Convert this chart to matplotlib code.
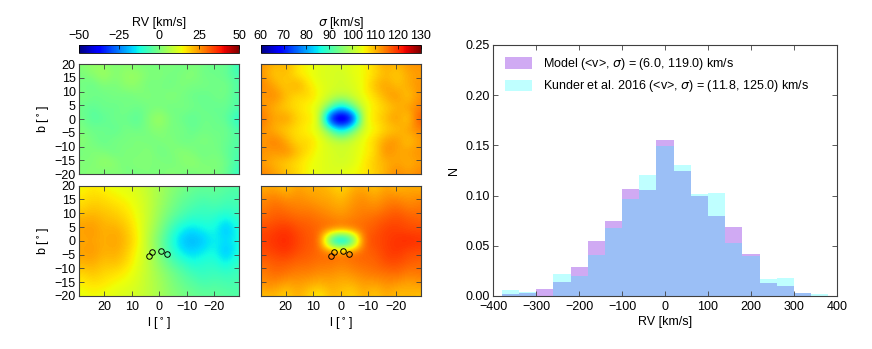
import numpy as np
import matplotlib
matplotlib.use('Agg')
import matplotlib.pyplot as plt

plt.rcParams['font.family'] = ['Liberation Sans', 'DejaVu Sans']
plt.rcParams['font.size'] = 9
plt.rcParams['mathtext.fontset'] = 'dejavusans'

# Map grid (approximate sample points)
l_grid = [28, 24, 20, 16, 12, 8, 4, 0, -4, -8, -12, -16, -20, -24, -28]
b_grid = [20, 16, 12, 8, 4, 0, -4, -8, -12, -16, -20]

# top left: model RV, whole box
rv_top = [
    [1, 3, 2, 0, 2, -1, 0, -1, 1, -2, 0, -1, -3, -1, -9],
    [0, 2, 5, 1, 3, 4, 0, 1, -1, 0, 2, -2, -1, -3, -7],
    [-1, -3, 1, -1, 3, 2, -1, 0, -2, 1, -1, 0, -2, 0, -5],
    [0, -1, -2, 0, -2, 0, 1, -1, 2, -1, -2, -3, -1, -1, -6],
    [-2, -4, -1, -3, 0, -2, -1, 0, -2, 0, -1, -2, -3, -2, -5],
    [-1, -5, -4, -1, -2, -5, 1, 5, 0, -2, -4, -1, -2, -3, -11],
    [0, -2, -1, -4, 0, -2, 0, 2, -1, 0, -3, -1, -2, -1, -6],
    [2, -1, -3, 0, -1, 1, -1, 0, 1, -2, -1, 1, -1, -2, -5],
    [-1, 1, 0, -2, 1, -1, 2, -2, 0, 2, 0, -2, 0, -3, -6],
    [1, 0, 4, 2, -1, 2, 0, 1, -1, 1, 3, 0, 1, -1, -7],
    [0, 2, -1, 1, 0, -1, 1, -1, 2, 0, -1, 1, 0, -2, -9],
]

# top right: model dispersion
sig_top = [
    [113, 110, 111, 107, 105, 104, 103, 103, 104, 105, 108, 112, 110, 113, 113],
    [112, 108, 110, 106, 105, 103, 103, 102, 104, 105, 107, 110, 108, 111, 112],
    [114, 111, 108, 112, 107, 104, 103, 102, 103, 105, 110, 112, 109, 111, 113],
    [112, 114, 110, 107, 108, 105, 102, 101, 102, 105, 107, 111, 113, 108, 113],
    [113, 110, 108, 107, 105, 103, 94, 82, 94, 103, 106, 108, 110, 112, 114],
    [115, 111, 113, 108, 107, 104, 64, 58, 64, 104, 107, 110, 113, 107, 118],
    [113, 110, 108, 107, 105, 103, 94, 82, 94, 103, 105, 108, 109, 112, 114],
    [112, 115, 111, 107, 108, 105, 102, 101, 102, 105, 108, 112, 113, 108, 112],
    [113, 112, 114, 110, 107, 104, 103, 102, 103, 105, 107, 114, 111, 112, 113],
    [112, 110, 108, 107, 105, 104, 103, 102, 103, 106, 109, 110, 112, 110, 112],
    [114, 112, 110, 108, 105, 104, 103, 104, 105, 106, 108, 111, 114, 112, 114],
]

# bottom left: model RV, rotating bar
rv_bot = [
    [14, 16, 14, 13, 12, 11, 8, 5, 2, 0, -2, -3, -2, -4, -5],
    [16, 18, 17, 15, 14, 12, 9, 5, 1, -2, -4, -5, -4, -6, -6],
    [18, 20, 19, 18, 16, 13, 9, 4, 0, -4, -6, -8, -6, -8, -7],
    [22, 23, 21, 20, 18, 14, 9, 3, -3, -7, -10, -9, -10, -14, -9],
    [24, 25, 22, 23, 20, 15, 8, 1, -7, -14, -16, -13, -12, -20, -12],
    [23, 24, 22, 24, 21, 16, 7, -1, -10, -18, -20, -18, -13, -16, -12],
    [24, 25, 22, 23, 20, 14, 8, 0, -8, -15, -17, -14, -12, -20, -12],
    [22, 23, 20, 21, 18, 13, 8, 2, -4, -8, -12, -10, -10, -14, -9],
    [18, 20, 18, 17, 15, 12, 8, 4, 0, -4, -7, -9, -7, -9, -7],
    [15, 17, 16, 14, 13, 11, 8, 5, 1, -2, -4, -6, -5, -6, -6],
    [13, 14, 13, 12, 11, 10, 8, 5, 2, 0, -2, -3, -3, -4, -5],
]

# bottom right: model dispersion
sig_bot = [
    [110, 111, 108, 112, 110, 111, 109, 107, 110, 111, 108, 112, 109, 111, 110],
    [113, 114, 112, 113, 112, 111, 111, 109, 112, 113, 111, 113, 113, 112, 113],
    [114, 116, 115, 114, 114, 113, 112, 111, 113, 114, 113, 115, 116, 114, 115],
    [116, 117, 117, 116, 116, 115, 114, 113, 114, 115, 116, 117, 118, 117, 116],
    [118, 119, 120, 118, 117, 116, 116, 115, 116, 116, 117, 119, 119, 118, 118],
    [119, 120, 121, 119, 117, 117, 84, 72, 84, 117, 118, 119, 120, 121, 120],
    [118, 119, 120, 118, 117, 116, 116, 115, 116, 116, 117, 119, 120, 118, 118],
    [116, 117, 117, 116, 116, 115, 115, 114, 115, 116, 116, 118, 118, 117, 116],
    [114, 116, 115, 114, 114, 113, 113, 112, 113, 114, 115, 115, 116, 114, 115],
    [113, 113, 111, 112, 111, 110, 111, 110, 110, 112, 111, 113, 112, 111, 112],
    [109, 110, 107, 111, 108, 105, 110, 109, 107, 111, 108, 111, 109, 110, 109],
]

# observed fields (circles)
field_l = [3.7, 2.6, -0.8, -2.9]
field_b = [-5.6, -4.1, -3.8, -4.7]

# RV histograms (fractions per 40 km/s bin)
bin_left = [-380, -340, -300, -260, -220, -180, -140, -100, -60, -20,
            20, 60, 100, 140, 180, 220, 260, 300, 340]
model_frac = [0.002, 0.003, 0.0066, 0.014, 0.0285, 0.055, 0.075, 0.107, 0.106, 0.1555,
              0.1247, 0.100, 0.080, 0.069, 0.042, 0.0133, 0.0096, 0.003, 0.0]
kunder_frac = [0.006, 0.0035, 0.0, 0.022, 0.020, 0.041, 0.068, 0.0965, 0.121, 0.1495,
               0.130, 0.102, 0.103, 0.053, 0.0395, 0.0166, 0.018, 0.003, 0.0017]

spine_col = '0.25'

fig = plt.figure(figsize=(8.72, 3.49), dpi=100)


def style_axes(ax):
    for s in ax.spines.values():
        s.set_color(spine_col)
        s.set_linewidth(0.8)
    ax.tick_params(direction='in', top=True, right=True, length=3.5, width=0.6,
                   color=spine_col, pad=2.5)
    ax.tick_params(axis='x', pad=3.5)


ext = [l_grid[0] + 2, l_grid[-1] - 2, b_grid[-1] - 2, b_grid[0] + 2]
panels = [
    (rv_top, [0.0909, 0.5014, 0.1835, 0.3152], (-50, 50), False, True, False),
    (sig_top, [0.299, 0.5014, 0.1835, 0.3152], (60, 130), False, False, False),
    (rv_bot, [0.0909, 0.1519, 0.1835, 0.316], (-50, 50), True, True, True),
    (sig_bot, [0.299, 0.1519, 0.1835, 0.316], (60, 130), True, False, True),
]
images = []
for data, rect, (vmin, vmax), xlab, ylab, circles in panels:
    ax = fig.add_axes(rect)
    im = ax.imshow(np.array(data, dtype=float), extent=ext, origin='upper', cmap='jet',
                   vmin=vmin, vmax=vmax, interpolation='bicubic', aspect='auto')
    images.append(im)
    if circles:
        ax.plot(field_l, field_b, 'o', mfc='none', mec='k', ms=4, mew=0.7)
    ax.set_xlim(29, -29)
    ax.set_ylim(-20, 20)
    ax.set_xticks([20, 10, 0, -10, -20])
    ax.set_yticks(np.arange(-20, 21, 5))
    style_axes(ax)
    if xlab:
        ax.set_xlabel('l [$^\\circ$]', labelpad=2)
    else:
        ax.set_xticklabels([])
    if ylab:
        ax.set_ylabel('b [$^\\circ$]', labelpad=2)
    else:
        ax.set_yticklabels([])

# colorbars on top
for im, rect, ticks, label in [
        (images[0], [0.0909, 0.8473, 0.1835, 0.0238], [-50, -25, 0, 25, 50], 'RV [km/s]'),
        (images[1], [0.299, 0.8473, 0.1835, 0.0238], [60, 70, 80, 90, 100, 110, 120, 130],
         '$\\sigma$ [km/s]')]:
    cax = fig.add_axes(rect)
    cb = fig.colorbar(im, cax=cax, orientation='horizontal', ticks=ticks)
    cax.xaxis.set_ticks_position('top')
    cax.xaxis.set_label_position('top')
    cax.tick_params(direction='in', length=3, width=0.5, pad=2)
    cb.outline.set_linewidth(0.6)
    cb.set_label(label, labelpad=3)

# histogram panel
ax = fig.add_axes([0.5657, 0.1519, 0.394, 0.7192])
ax.bar(bin_left, model_frac, width=40, align='edge', color='blueviolet', alpha=0.4,
       linewidth=0, label='Model (<v>, $\\sigma$) = (6.0, 119.0) km/s')
ax.bar(bin_left, kunder_frac, width=40, align='edge', color='cyan', alpha=0.25,
       linewidth=0, label='Kunder et al. 2016 (<v>, $\\sigma$) = (11.8, 125.0) km/s')
ax.set_xlim(-400, 400)
ax.set_ylim(0, 0.25)
ax.set_yticks([0, 0.05, 0.10, 0.15, 0.20, 0.25])
ax.set_yticklabels(['0.00', '0.05', '0.10', '0.15', '0.20', '0.25'])
style_axes(ax)
ax.set_xlabel('RV [km/s]', labelpad=2)
ax.set_ylabel('N', labelpad=4)
ax.legend(loc='upper left', frameon=False, handlelength=2.2, handleheight=1.0,
          borderaxespad=0.5, labelspacing=0.5, handletextpad=0.9)

fig.savefig('out.png', dpi=100)
